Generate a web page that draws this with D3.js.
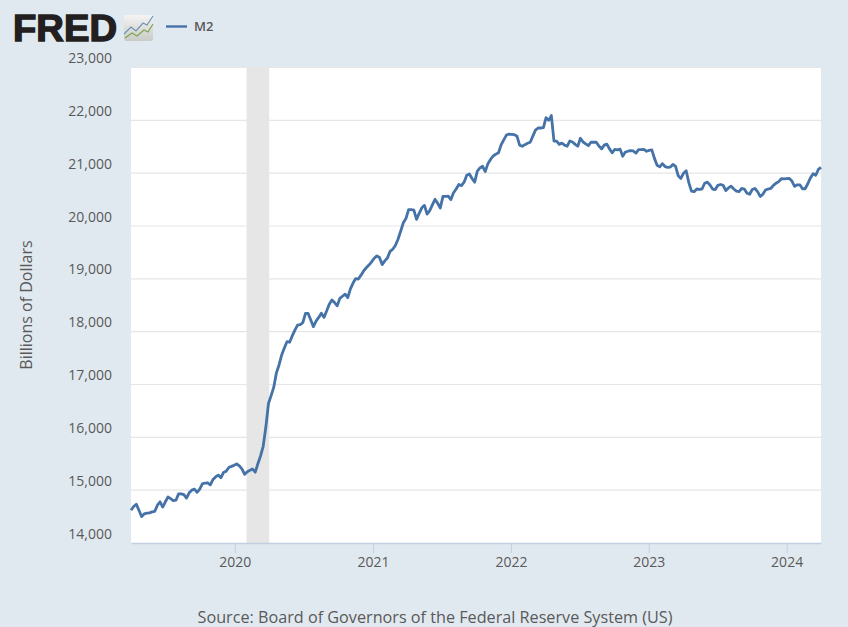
<!DOCTYPE html>
<html><head><meta charset="utf-8">
<script src="https://cdn.jsdelivr.net/npm/d3@7/dist/d3.min.js"></script>
<style>html,body{margin:0;padding:0;background:#e1e9f0}svg{display:block}text{font-family:"Open Sans",sans-serif}</style>
</head><body><svg id="c" width="848" height="627"></svg>
<script>
const startDate = "2019-04-01";
const seriesName = "M2";
const yTicks = [14000,15000,16000,17000,18000,19000,20000,21000,22000,23000];
const xTickYears = [2020,2021,2022,2023,2024];
const recession = ["2020-02-01","2020-04-01"];
const yTitle = "Billions of Dollars";
const source = "Source: Board of Governors of the Federal Reserve System (US)";
const m2Weekly = [
14620,14690,14735,14620,14500,14550,14565,14570,14590,14600,14715,14780,14680,14780,14870,14840,14800,14810,14930,14930,
14915,14850,14950,15000,15020,14960,15020,15120,15135,15140,15100,15200,15250,15285,15235,15335,15360,15430,15450,15470,
15495,15460,15400,15300,15350,15375,15400,15340,15500,15650,15830,16190,16640,16790,16950,17220,17370,17560,17690,17810,
17800,17920,18030,18125,18135,18170,18345,18345,18220,18095,18200,18270,18350,18270,18390,18520,18600,18550,18490,18630,
18670,18710,18645,18810,18920,19005,18995,19070,19150,19210,19260,19320,19390,19435,19405,19270,19340,19395,19520,19560,
19630,19750,19900,20060,20140,20310,20310,20300,20125,20240,20345,20390,20225,20290,20400,20505,20430,20340,20560,20560,
20565,20500,20630,20700,20785,20765,20830,20960,20985,20900,20830,21040,21100,21130,21030,21180,21260,21325,21360,21385,
21535,21630,21720,21740,21735,21730,21700,21530,21510,21540,21565,21585,21700,21815,21855,21855,21860,22050,22000,22090,
21605,21605,21545,21570,21530,21510,21610,21590,21545,21510,21660,21590,21555,21520,21585,21585,21585,21515,21460,21530,
21550,21460,21385,21450,21440,21455,21320,21400,21415,21425,21420,21380,21445,21445,21450,21415,21430,21440,21280,21150,
21120,21180,21125,21110,21115,21165,21130,20950,20900,21000,21045,20820,20660,20650,20700,20695,20700,20810,20830,20775,
20700,20690,20770,20785,20770,20670,20720,20755,20700,20660,20650,20710,20700,20620,20600,20690,20710,20650,20560,20600,
20680,20700,20710,20770,20810,20840,20895,20890,20895,20900,20850,20750,20780,20780,20705,20705,20800,20910,20990,20960,
21070,21110];

const svg = d3.select("#c");
const parse = d3.utcParse("%Y-%m-%d");
const t0 = parse(startDate);
const dates = m2Weekly.map((_,i)=>d3.utcWeek.offset(t0,i));
const x = d3.scaleUtc().domain([t0,dates[dates.length-1]]).range([131,821]);
const y = d3.scaleLinear().domain([14000,23000]).range([543,67.5]);

svg.append("rect").attr("width",848).attr("height",627).attr("fill","#e1e9f0");
svg.append("rect").attr("x",131).attr("y",67.5).attr("width",690).attr("height",475.5).attr("fill","#fff");

// recession band
svg.append("rect").attr("x",x(parse(recession[0]))).attr("y",67.5)
  .attr("width",x(parse(recession[1]))-x(parse(recession[0]))).attr("height",475.5).attr("fill","#e6e6e6");

// grid
svg.append("g").selectAll("line").data(yTicks.slice(1)).join("line")
  .attr("x1",131).attr("x2",821).attr("y1",d=>y(d)).attr("y2",d=>y(d))
  .attr("stroke","#e6e6e6").attr("stroke-width",1.2);

// axes
const gx = svg.append("g").attr("transform","translate(0,543)")
  .call(d3.axisBottom(x).tickValues(xTickYears.map(v=>new Date(Date.UTC(v,0,1)))).tickFormat(d3.utcFormat("%Y")).tickSizeInner(10).tickSizeOuter(0).tickPadding(4));
gx.select(".domain").attr("stroke","#c0d0e0").attr("stroke-width",1.5);
gx.selectAll(".tick line").attr("stroke","#c0d0e0");
gx.selectAll("text").attr("fill","#595959").style("font-size","14px").style("font-family",'"Open Sans",sans-serif');

const gy = svg.append("g").attr("transform","translate(131,0)")
  .call(d3.axisLeft(y).tickValues(yTicks).tickFormat(d3.format(",")).tickSize(0).tickPadding(19));
gy.select(".domain").remove();
gy.selectAll("text").attr("fill","#595959").attr("dy","-0.35em").style("font-size","14px").style("font-family",'"Open Sans",sans-serif');

// line
svg.append("path").datum(m2Weekly)
  .attr("fill","none").attr("stroke","#4572a7").attr("stroke-width",2.8).attr("stroke-linejoin","round")
  .attr("d",d3.line().x((d,i)=>x(dates[i])).y(d=>y(d)));

// titles
svg.append("text").attr("transform","translate(32,305) rotate(-90)").attr("text-anchor","middle")
  .attr("fill","#595959").style("font-size","16px").text(yTitle);
svg.append("text").attr("x",435).attr("y",622.5).attr("text-anchor","middle")
  .attr("fill","#595959").style("font-size","16.2px").text(source);

// legend
svg.append("line").attr("x1",166).attr("x2",187).attr("y1",26.5).attr("y2",26.5).attr("stroke","#4572a7").attr("stroke-width",2.4);
svg.append("text").attr("x",194).attr("y",31).attr("fill","#595959").style("font-size","13px").style("font-weight",600).text(seriesName);

// FRED logo
svg.append("text").attr("x",13).attr("y",41).attr("textLength",104).attr("lengthAdjust","spacingAndGlyphs")
  .attr("fill","#231f20").attr("stroke","#231f20").attr("stroke-width",1.4)
  .style("font-family",'"Liberation Sans",sans-serif').style("font-weight",700).style("font-size","37px").text("FRED");
const defs = svg.append("defs");
const g = defs.append("linearGradient").attr("id","ic").attr("x1",0).attr("y1",0).attr("x2",0).attr("y2",1);
g.append("stop").attr("offset",0).attr("stop-color","#f4f4f2");
g.append("stop").attr("offset",1).attr("stop-color","#c9cbc6");
svg.append("rect").attr("x",124).attr("y",15).attr("width",29).attr("height",26).attr("rx",2).attr("fill","url(#ic)");
svg.append("path").attr("d","M124 34 L131 27 L136 31 L143 23 L147 25 L153 16").attr("fill","none").attr("stroke","#6f93b8").attr("stroke-width",1.2);
svg.append("path").attr("d","M125 38 L132 33 L137 36 L144 30 L148 32 L153 24").attr("fill","none").attr("stroke","#7ea352").attr("stroke-width",1.2);
</script></body></html>
